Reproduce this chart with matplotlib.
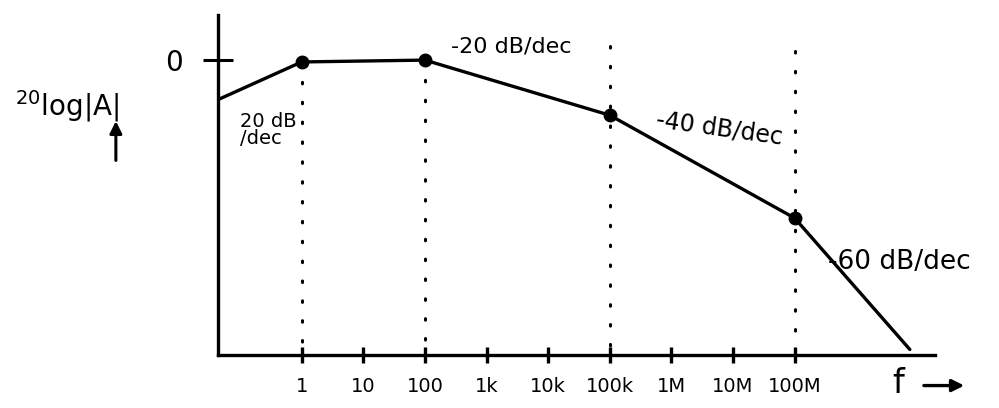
import numpy as np
import matplotlib
matplotlib.use('Agg')
import matplotlib.pyplot as plt

# corner frequencies of the sketched Bode plot (Hz) and gain (dB)
freq = [0.044, 1, 100, 1e5, 1e8, 7.4e9]
gain_db = [-43, -2, 0, -60, -172, -315]
corner_freq = [1, 100, 1e5, 1e8]
corner_gain = [-2, 0, -60, -172]
dotted_top = [-2, 0, 15, 10]

tick_freq = [1, 10, 100, 1e3, 1e4, 1e5, 1e6, 1e7, 1e8]
tick_labels = ['1', '10', '100', '1k', '10k', '100k', '1M', '10M', '100M']

fig = plt.figure(figsize=(9.99, 4.08), dpi=100)
ax = fig.add_axes([0.218, 0.13, 0.718, 0.833])
ax.set_xscale('log')
ax.set_xlim(0.0435, 1.9e10)
ax.set_ylim(-321, 49)

for s in ['top', 'right']:
	ax.spines[s].set_visible(False)
for s in ['left', 'bottom']:
	ax.spines[s].set_linewidth(2.4)

ax.set_xticks(tick_freq)
ax.set_xticklabels(tick_labels)
ax.minorticks_off()
ax.tick_params(axis='x', direction='inout', length=12, width=2.4, labelsize=14, pad=10)
ax.set_yticks([0])
ax.set_yticklabels(['0'])
ax.tick_params(axis='y', direction='inout', length=22, width=2.2, labelsize=20, pad=14)

# dotted guides at the corners
for f, top in zip(corner_freq, dotted_top):
	ax.plot([f, f], [top, -321], color='black', lw=2.2, ls=(0, (0.5, 6)),
			dash_capstyle='round', clip_on=False)

ax.plot(freq, gain_db, color='black', lw=2.4, solid_capstyle='round')
ax.plot(corner_freq, corner_gain, 'o', color='black', ms=9)

ax.text(0.1, -56, '20 dB\n/dec', fontsize=14, linespacing=0.9, va='top')
ax.text(2.5e3, 15, '-20 dB/dec', fontsize=16, ha='center', va='center')
ax.text(6e6, -74, '-40 dB/dec', fontsize=17, ha='center', va='center', rotation=-8)
ax.text(3.5e8, -220, '-60 dB/dec', fontsize=19, ha='left', va='center')

fig.text(0.015, 0.74, r'$^{20}$log|A|', fontsize=20, va='center')
ax.annotate('', xy=(0.116, 0.71), xytext=(0.116, 0.6), xycoords='figure fraction',
			textcoords='figure fraction', annotation_clip=False,
			arrowprops=dict(arrowstyle='-|>', color='black', lw=2.2, mutation_scale=18))
fig.text(0.893, 0.06, 'f', fontsize=24, va='center')
ax.annotate('', xy=(0.968, 0.055), xytext=(0.922, 0.055), xycoords='figure fraction',
			textcoords='figure fraction', annotation_clip=False,
			arrowprops=dict(arrowstyle='-|>', color='black', lw=2.4, mutation_scale=18))

plt.savefig('out.png', dpi=100)
